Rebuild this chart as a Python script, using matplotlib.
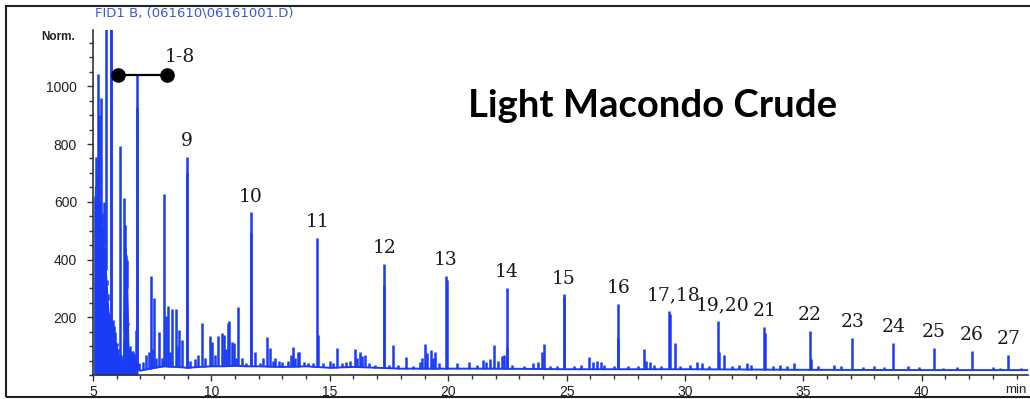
import matplotlib
matplotlib.use('Agg')
import matplotlib.pyplot as plt
from matplotlib.patches import Rectangle
from matplotlib.ticker import MultipleLocator
import numpy as np

# FID trace, light Macondo crude

# labelled n-alkane peaks (retention time in min, signal)
alkane_t = [8.95, 11.66, 14.47, 17.30, 19.91, 22.47, 24.89, 27.18, 29.34,
            31.41, 33.35, 35.28, 37.07, 38.80, 40.52, 42.12, 43.65]
alkane_h = [755, 563, 476, 386, 342, 303, 279, 245, 221,
            187, 167, 153, 129, 112, 94, 84, 68]
alkane_lbl = ['9', '10', '11', '12', '13', '14', '15', '16', '17,18',
              '19,20', '21', '22', '23', '24', '25', '26', '27']

# everything else: light ends, shoulders, minor peaks
other_t = [5.08, 5.13, 5.18, 5.22, 5.27, 5.32, 5.36, 5.42, 5.48, 5.54, 5.58,
           5.62, 5.76, 5.78, 5.85, 5.90, 5.95, 6.00, 6.06, 6.14, 6.18, 6.25,
           6.32, 6.35, 6.37, 6.41, 6.45, 6.48, 6.55, 6.62, 6.72, 6.80, 6.85,
           6.87, 6.95, 7.10, 7.25, 7.35, 7.43, 7.50, 7.58, 7.65, 7.79, 7.90,
           8.00, 8.07, 8.18, 8.25, 8.35, 8.49, 8.55, 8.64, 8.74, 8.97, 9.10,
           9.30, 9.45, 9.62, 9.75, 9.94, 10.04, 10.15, 10.27, 10.46, 10.54,
           10.62, 10.69, 10.76, 10.86, 10.95, 11.02, 11.11, 11.30, 11.45,
           11.68, 11.84, 12.05, 12.20, 12.33, 12.47, 12.60, 12.69, 12.85,
           13.00, 13.23, 13.35, 13.46, 13.55, 13.67, 13.71, 13.90, 14.10,
           14.30, 14.51, 14.70, 15.00, 15.15, 15.32, 15.50, 15.70, 15.85,
           16.06, 16.15, 16.27, 16.38, 16.49, 16.65, 16.90, 17.28, 17.50,
           17.68, 17.90, 18.22, 18.50, 18.80, 18.90, 19.02, 19.10, 19.26,
           19.35, 19.44, 19.60, 19.93, 20.39, 20.89, 21.20, 21.48, 21.60,
           21.75, 21.93, 22.10, 22.26, 22.35, 22.49, 22.70, 23.20, 23.60,
           23.80, 23.95, 24.05, 24.30, 24.60, 24.91, 25.30, 25.60, 25.96,
           26.10, 26.27, 26.45, 26.60, 27.00, 27.16, 27.60, 28.00, 28.27,
           28.35, 28.52, 28.70, 29.00, 29.36, 29.58, 29.80, 30.20, 30.49,
           30.70, 31.00, 31.43, 31.66, 32.00, 32.30, 32.60, 32.80, 33.37,
           33.70, 34.00, 34.30, 34.60, 35.31, 35.60, 36.30, 36.60, 37.50,
           38.00, 38.40, 39.40, 39.90, 40.90, 41.50, 43.00, 43.30, 44.20]
other_h = [620, 755, 700, 1043, 900, 958, 560, 520, 600, 1200, 330,
           280, 1200, 1200, 190, 170, 150, 110, 90, 792, 70, 60,
           614, 520, 440, 415, 400, 180, 100, 80, 60, 155, 1038,
           928, 40, 45, 70, 80, 342, 90, 267, 60, 150, 60,
           626, 204, 240, 80, 227, 227, 100, 156, 121, 699, 50,
           55, 70, 179, 60, 136, 115, 70, 135, 146, 140,
           90, 181, 187, 115, 110, 60, 236, 60, 40,
           491, 81, 40, 60, 133, 95, 50, 60, 50,
           45, 50, 70, 98, 60, 80, 80, 45, 40,
           40, 138, 40, 50, 40, 92, 40, 45, 50,
           90, 60, 80, 65, 70, 40, 35, 311, 35,
           104, 35, 61, 30, 45, 60, 109, 75, 86,
           60, 81, 40, 330, 43, 46, 35, 52, 45,
           55, 104, 50, 66, 70, 98, 35, 30, 40,
           45, 80, 109, 30, 30, 270, 30, 35, 63,
           45, 50, 45, 35, 30, 128, 30, 30, 89,
           50, 45, 35, 30, 210, 110, 30, 35, 46,
           40, 30, 81, 69, 30, 35, 40, 35, 145,
           30, 35, 30, 43, 55, 30, 35, 32, 28,
           30, 28, 30, 28, 25, 27, 26, 25, 25]

# baseline / unresolved hump
base_t = [5.0, 5.10, 5.12, 5.25, 5.35, 5.45, 5.55, 5.65, 5.70, 5.80, 5.90,
          6.00, 6.10, 6.20, 6.30, 6.35, 6.45, 6.50, 6.60, 6.70, 6.80, 6.90,
          7.0, 7.3, 7.6, 8.0, 8.5, 9.0, 9.5, 10.0, 10.5, 11.0, 11.5, 12.0,
          13.0, 14.0, 15.0, 16.0, 17.0, 18.0, 20.0, 22.0, 25.0, 30.0, 35.0,
          40.0, 44.6]
base_y = [0, 0, 650, 650, 520, 500, 350, 220, 200, 180, 140,
          100, 65, 40, 50, 300, 300, 90, 60, 80, 50, 20,
          15, 20, 25, 30, 28, 25, 28, 30, 30, 32, 30, 30,
          28, 30, 25, 28, 25, 22, 22, 22, 20, 20, 18,
          17, 17]

blue = '#1a3cf5'

fig = plt.figure(figsize=(10.30, 3.99), dpi=100)
ax = fig.add_axes([93 / 1030, 1 - 375 / 399, (1028 - 93) / 1030, (375 - 30) / 399])

ax.axvline(5.18, ymax=560 / 1195, color='#e040e0', lw=1.2, zorder=1)

bt = np.array(base_t)
by = np.array(base_y)
ax.fill_between(bt, 0, by, where=bt <= 6.9, color=blue, lw=0, zorder=2)
ax.plot(bt, by, color=blue, lw=1.4, zorder=2)

all_t = np.array(other_t + alkane_t)
all_h = np.array(other_h + alkane_h)
ax.vlines(all_t, np.interp(all_t, bt, by), all_h, color=blue, lw=1.8, zorder=3)

# carbon-number labels
for t, h, s in zip(alkane_t, alkane_h, alkane_lbl):
    dx = 3 if ',' in s else 0
    ax.annotate(s, (t, h), xytext=(dx, 5), textcoords='offset points',
                ha='center', va='bottom', fontsize=13.5, family='DejaVu Serif',
                color='#1a1a1a')

# C1-C8 bracket
ax.plot([6.06, 8.13], [1038, 1038], color='black', lw=1.6, marker='o', ms=9.5, zorder=5)
ax.text(8.67, 1100, '1-8', ha='center', va='center', fontsize=13.5,
        family='DejaVu Serif', color='#1a1a1a')

ax.text((653 - 93) / 935, (375 - 106) / 345, 'Light Macondo Crude', transform=ax.transAxes,
        ha='center', va='center', fontsize=27.5, fontweight='bold', family='Lato',
        color='black')

ax.set_xlim(5, 5 + 935 / 23.68)
ax.set_ylim(0, 1195)
ax.set_xticks([5, 10, 15, 20, 25, 30, 35, 40])
ax.set_yticks([200, 400, 600, 800, 1000])
ax.xaxis.set_minor_locator(MultipleLocator(1))
ax.yaxis.set_minor_locator(MultipleLocator(50))
ax.tick_params(which='major', length=4.5, width=1, color='#333333', labelsize=10,
               labelcolor='#222222', pad=2.5)
ax.tick_params(which='minor', length=3, width=1, color='#333333')
for lab in ax.get_xticklabels() + ax.get_yticklabels():
    lab.set_family('Liberation Sans')
ax.tick_params(axis='y', pad=7)
for side in ['top', 'right']:
    ax.spines[side].set_visible(False)
for side in ['left', 'bottom']:
    ax.spines[side].set_color('#333333')
    ax.spines[side].set_linewidth(1.2)

fig.text(75 / 1030, 1 - 37 / 399, 'Norm.', ha='right', va='center', fontsize=8.5,
         fontweight='bold', family='Liberation Sans', color='#222222')
fig.text(95 / 1030, 1 - 13 / 399, r'FID1 B, (061610\06161001.D)', ha='left', va='center',
         fontsize=9.5, family='DejaVu Sans', color='#3a5ad8')
fig.text(1027 / 1030, 1 - 390 / 399, 'min', ha='right', va='center', fontsize=9.5,
         family='Liberation Sans', color='#222222')

fig.patches.append(Rectangle((6 / 1030, 2.5 / 399), 1.0, 1 - 8 / 399, transform=fig.transFigure,
                             fill=False, edgecolor='#222222', lw=1.5, clip_on=False))

fig.savefig('out.png', dpi=100)
